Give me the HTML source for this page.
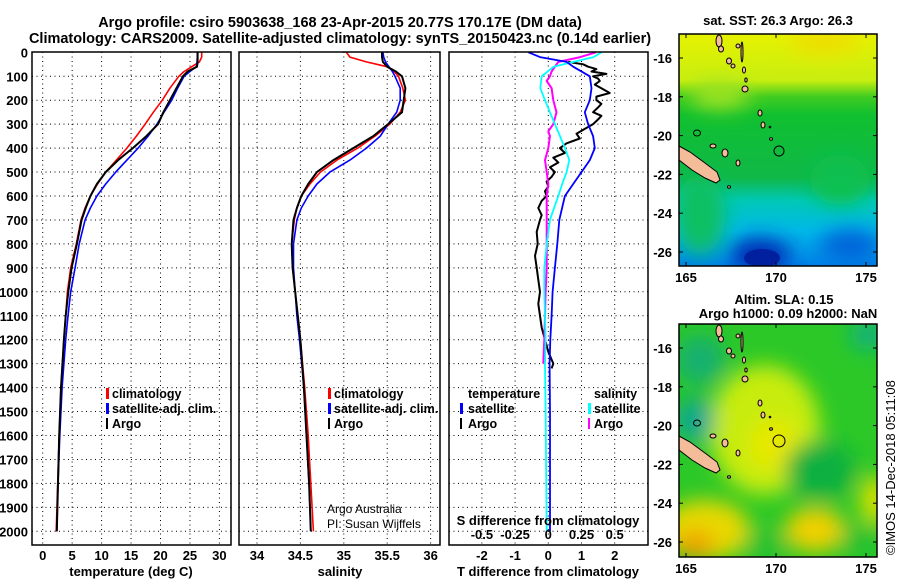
<!DOCTYPE html>
<html><head><meta charset="utf-8"><style>
html,body{margin:0;padding:0;background:#fff;}
svg{display:block;font-family:"Liberation Sans",Arial,sans-serif;}
.tk{font-size:13px;font-weight:bold;fill:#000;}
.lg{font-size:12.5px;font-weight:bold;fill:#000;}
</style></head><body>
<svg id="fig" width="900" height="580" viewBox="0 0 900 580">
<defs>
<clipPath id="c1"><rect x="32" y="52" width="199" height="493"/></clipPath>
<clipPath id="c2"><rect x="239" y="52" width="201" height="493"/></clipPath>
<clipPath id="c3"><rect x="449" y="52" width="199" height="493"/></clipPath>
<clipPath id="m1"><rect x="679" y="34" width="198" height="232"/></clipPath>
<clipPath id="m2"><rect x="679" y="324" width="198" height="233"/></clipPath>
<filter id="bl" x="-50%" y="-50%" width="200%" height="200%"><feGaussianBlur stdDeviation="10"/></filter>
<linearGradient id="sst" x1="0" y1="0" x2="0" y2="1">
<stop offset="0" stop-color="#e6f200"/><stop offset="0.2" stop-color="#c8ee10"/>
<stop offset="0.27" stop-color="#40cc20"/><stop offset="0.35" stop-color="#10c030"/>
<stop offset="0.62" stop-color="#10b848"/><stop offset="0.72" stop-color="#00c8b8"/>
<stop offset="0.85" stop-color="#00b8e8"/><stop offset="1" stop-color="#0080e8"/>
</linearGradient>
</defs>
<text x="340" y="27" text-anchor="middle" style="font-size:14.5px;font-weight:bold">Argo profile: csiro 5903638_168 23-Apr-2015 20.77S 170.17E (DM data)</text>
<text x="340" y="43" text-anchor="middle" style="font-size:14.5px;font-weight:bold">Climatology: CARS2009. Satellite-adjusted climatology: synTS_20150423.nc (0.14d earlier)</text>
<g id="grid"></g>
<g id="lines"></g>
<g id="axes"></g>

<g>
<rect x="106" y="388" width="3" height="11" fill="#f00"/><text class="lg" x="112" y="398">climatology</text>
<rect x="106" y="403" width="3" height="11" fill="#00f"/><text class="lg" x="112" y="413">satellite-adj. clim.</text>
<rect x="106" y="418" width="2" height="11" fill="#000"/><text class="lg" x="112" y="428">Argo</text>
</g>
<g>
<rect x="328" y="388" width="3" height="11" fill="#f00"/><text class="lg" x="334" y="398">climatology</text>
<rect x="328" y="403" width="3" height="11" fill="#00f"/><text class="lg" x="334" y="413">satellite-adj. clim.</text>
<rect x="328" y="418" width="2" height="11" fill="#000"/><text class="lg" x="334" y="428">Argo</text>
</g>
<g>
<text class="lg" x="468" y="398">temperature</text><text class="lg" x="594" y="398">salinity</text>
<rect x="460" y="403" width="3" height="11" fill="#00f"/><text class="lg" x="468" y="413">satellite</text>
<rect x="588" y="403" width="3" height="11" fill="#0ff"/><text class="lg" x="594" y="413">satellite</text>
<rect x="460" y="418" width="2" height="11" fill="#000"/><text class="lg" x="468" y="428">Argo</text>
<rect x="588" y="418" width="2" height="11" fill="#f0f"/><text class="lg" x="594" y="428">Argo</text>
</g>
<text x="327" y="513" style="font-size:12px">Argo Australia</text>
<text x="327" y="528" style="font-size:12px">PI: Susan Wijffels</text>
<text class="tk" x="548" y="525" text-anchor="middle">S difference from climatology</text>

<text class="tk" x="131" y="576" text-anchor="middle">temperature (deg C)</text>
<text class="tk" x="340" y="576" text-anchor="middle">salinity</text>
<text class="tk" x="548" y="576" text-anchor="middle">T difference from climatology</text>

<g>
<text class="tk" x="778" y="25" text-anchor="middle">sat. SST: 26.3 Argo: 26.3</text>
<g clip-path="url(#m1)">
<rect x="679" y="34" width="198" height="232" fill="url(#sst)"/>
<g filter="url(#bl)">
<ellipse cx="825" cy="42" rx="35" ry="10" fill="#f2d800"/>
<ellipse cx="700" cy="215" rx="25" ry="40" fill="#10c060"/>
<ellipse cx="840" cy="180" rx="30" ry="25" fill="#10c050"/>
<ellipse cx="760" cy="255" rx="30" ry="16" fill="#0028b0"/>
<ellipse cx="850" cy="245" rx="30" ry="15" fill="#0060d8"/>
<ellipse cx="720" cy="95" rx="30" ry="14" fill="#a0e420"/>
</g>
<ellipse cx="762" cy="258" rx="18" ry="9" fill="#0020a0"/>
</g>
<g id="land1"></g>
<rect x="679" y="34" width="198" height="232" fill="none" stroke="#000" stroke-width="1.5"/>
<circle cx="779" cy="151" r="5" fill="none" stroke="#000"/>
</g>
<g>
<text class="tk" x="784" y="304" text-anchor="middle">Altim. SLA: 0.15</text>
<text class="tk" x="788" y="318" text-anchor="middle">Argo h1000: 0.09 h2000: NaN</text>
<g clip-path="url(#m2)">
<rect x="679" y="324" width="198" height="233" fill="#2cc828"/>
<g filter="url(#bl)">
<ellipse cx="765" cy="430" rx="55" ry="65" fill="#c8ec10"/>
<ellipse cx="775" cy="445" rx="25" ry="25" fill="#e8e800"/>
<ellipse cx="700" cy="360" rx="25" ry="25" fill="#18b070"/>
<ellipse cx="695" cy="420" rx="20" ry="22" fill="#10a890"/>
<ellipse cx="705" cy="530" rx="45" ry="30" fill="#e8d800"/>
<ellipse cx="695" cy="545" rx="20" ry="14" fill="#f0a000"/>
<ellipse cx="815" cy="530" rx="30" ry="22" fill="#f0d000"/>
<ellipse cx="820" cy="470" rx="35" ry="30" fill="#10b040"/>
<ellipse cx="765" cy="545" rx="22" ry="14" fill="#20c030"/>
<ellipse cx="868" cy="335" rx="18" ry="15" fill="#10b080"/>
<ellipse cx="875" cy="500" rx="15" ry="25" fill="#d8e000"/>
<ellipse cx="860" cy="540" rx="20" ry="15" fill="#20c030"/>
</g>
</g>
<g id="land2"></g>
<rect x="679" y="324" width="198" height="233" fill="none" stroke="#000" stroke-width="1.5"/>
<circle cx="779" cy="441" r="6" fill="none" stroke="#000"/>
</g>
<g id="maxes"></g>
<text transform="translate(895,555) rotate(-90)" style="font-size:13px">©IMOS 14-Dec-2018 05:11:08</text>
</svg>
<script>
const depth = [0,20,40,60,80,100,150,200,250,300,350,400,450,500,550,600,650,700,800,900,1000,1100,1200,1400,1600,1800,2000];
const tClim = [27.0,27.0,26.6,25.3,24.0,23.1,21.6,20.3,18.8,17.4,15.9,14.3,12.5,10.7,9.3,8.1,7.2,6.5,5.7,4.75,4.2,3.9,3.6,3.1,2.8,2.55,2.3];
const tSat  = [26.25,26.25,26.2,26.1,25.0,24.0,22.9,21.9,20.6,19.4,17.9,16.2,14.3,12.4,10.7,9.2,8.1,7.2,6.2,5.5,4.75,4.3,3.9,3.3,2.9,2.6,2.4];
const tArgo = [26.3,26.3,26.3,26.2,24.6,23.8,22.7,21.6,20.5,19.6,17.6,15.3,12.8,10.7,9.2,8.1,7.3,6.6,5.8,4.9,4.35,3.9,3.6,3.1,2.8,2.6,2.4];
const sClim = [35.03,35.07,35.26,35.50,35.58,35.63,35.68,35.71,35.65,35.53,35.36,35.16,34.92,34.73,34.61,34.51,34.46,34.43,34.40,34.41,34.44,34.47,34.50,34.55,34.59,34.62,34.65];
const sSat  = [35.45,35.46,35.48,35.52,35.56,35.59,35.65,35.65,35.61,35.51,35.42,35.26,35.07,34.84,34.69,34.59,34.51,34.46,34.42,34.42,34.44,34.46,34.49,34.54,34.57,34.60,34.62];
const sArgo = [35.44,35.44,35.45,35.50,35.60,35.67,35.71,35.69,35.67,35.51,35.34,35.11,34.88,34.69,34.59,34.51,34.46,34.42,34.40,34.41,34.44,34.47,34.50,34.54,34.57,34.60,34.62];
const satDepth = [0,20,40,60,100,150,200,250,300,350,400,450,500,550,600,700,800,900,1000,1100,1200,1300,1500,2000];
const tDiffSat = [-0.6,-0.25,0.55,0.75,1.25,1.3,1.25,1.1,1.2,1.35,1.4,1.25,1.0,0.75,0.5,0.33,0.27,0.2,0.13,0.1,0.06,0.04,0.05,0.05];
const sDiffSat = [0.40,0.34,0.19,0.04,-0.05,-0.06,-0.025,0.012,0.05,0.088,0.125,0.158,0.138,0.105,0.075,0.012,-0.012,-0.03,-0.03,-0.025,-0.02,-0.025,-0.02,-0.012];
const argoDepth = [40,50,60,70,80,90,100,110,120,135,150,170,185,200,215,230,250,265,280,300,320,340,360,380,400,420,440,460,480,500,520,540,560,580,600,620,650,680,700,750,800,850,900,950,1000,1050,1100,1150,1200,1250,1300,1320];
const tDiffArgo = [0.6,1.05,1.2,1.45,1.3,1.75,1.35,1.5,1.55,1.4,1.6,1.85,1.45,1.45,1.6,1.5,1.35,1.6,1.5,1.35,1.1,0.85,0.95,0.55,0.35,0.5,0.15,0.3,0.05,0.2,0.1,-0.05,0.0,-0.1,-0.05,-0.2,-0.3,-0.2,-0.25,-0.35,-0.32,-0.4,-0.35,-0.3,-0.25,-0.3,-0.25,-0.2,-0.1,0.0,0.15,0.1];
const sArgoDepth = [0,20,40,60,80,100,120,150,200,250,300,330,350,400,450,500,550,600,700,800,900,1000,1100,1200,1300];
const sDiffArgo = [0.36,0.24,0.075,0.05,0.025,0.012,-0.012,0.025,0.038,0.062,0.038,0,0.012,0,-0.025,-0.012,0,-0.012,-0.012,-0.012,-0.012,-0.02,-0.025,-0.03,-0.038];
const depthTicks = [0,100,200,300,400,500,600,700,800,900,1000,1100,1200,1300,1400,1500,1600,1700,1800,1900,2000];
const tTicks = [0,5,10,15,20,25,30];
const sTicks = [34,34.5,35,35.5,36];
const sTickLabels = ["34","34.5","35","35.5","36"];
const dTicks = [-2,-1,0,1,2];
const sdTicks = [-0.5,-0.25,0,0.25,0.5];
const sdTickLabels = ["-0.5","-0.25","0","0.25","0.5"];
const latTicks = [-16,-18,-20,-22,-24,-26];
const lonTicks = [165,170,175];

const yD = d => 52.3 + 0.2395*d;
const xT = t => 42.7 + 5.89*t;
const xS = s => 257 + 86.8*(s-34);
const xDT = t => 548.3 + 33.2*t;
const xDS = s => 548.3 + 132.8*s;
const NS = 'http://www.w3.org/2000/svg';
function mk(tag, attrs, parent){const e=document.createElementNS(NS,tag);for(const k in attrs)e.setAttribute(k,attrs[k]);parent.appendChild(e);return e;}
const grid=document.getElementById('grid'), lines=document.getElementById('lines'), axes=document.getElementById('axes');
const panels=[{x0:32,x1:231},{x0:239,x1:440},{x0:449,x1:648}];
const dot={stroke:'#000','stroke-width':1,'stroke-dasharray':'1 3.5',fill:'none'};
panels.forEach(p=>{
  depthTicks.forEach(d=>{ if(d>0){ const l=mk('line',Object.assign({x1:p.x0,x2:p.x1,y1:yD(d),y2:yD(d)},dot),grid);
    
    }});
  const r=mk('rect',{x:p.x0,y:52,width:p.x1-p.x0,height:493,fill:'none',stroke:'#000','stroke-width':1.5},axes);
  
  
});
tTicks.forEach(t=>{ const l=mk('line',Object.assign({x1:xT(t),x2:xT(t),y1:52,y2:545},dot),grid);
  
  
  const tx=mk('text',{x:xT(t),y:560,'text-anchor':'middle',class:'tk'},axes); tx.textContent=t;
  
  });
sTicks.forEach((s,i)=>{ const l=mk('line',Object.assign({x1:xS(s),x2:xS(s),y1:52,y2:545},dot),grid);
  
  
  const tx=mk('text',{x:xS(s),y:560,'text-anchor':'middle',class:'tk'},axes); tx.textContent=sTickLabels[i];
  
  });
dTicks.forEach(t=>{ const l=mk('line',Object.assign({x1:xDT(t),x2:xDT(t),y1:52,y2:545},dot),grid);
  
  
  const tx=mk('text',{x:xDT(t),y:560,'text-anchor':'middle',class:'tk'},axes); tx.textContent=t;
  
  });
sdTicks.forEach((s,i)=>{ const tx=mk('text',{x:xDS(s),y:539,'text-anchor':'middle',class:'tk'},axes); tx.textContent=sdTickLabels[i];
  
  });
depthTicks.forEach(d=>{ const tx=mk('text',{x:28,y:yD(d)+5,'text-anchor':'end',class:'tk'},axes); tx.textContent=d;
  
  });

function series(xs, ds, fx, color, w, clip, name){
  const pts=xs.map((v,i)=>fx(v).toFixed(1)+','+yD(ds[i]).toFixed(1)).join(' ');
  const pl=mk('polyline',{points:pts,fill:'none',stroke:color,'stroke-width':w,'clip-path':'url(#'+clip+')','stroke-linejoin':'round'},lines);
  
  
}
series(tClim,depth,xT,'#f00',1.6,'c1','temperature-climatology-line');
series(tSat,depth,xT,'#00f',1.6,'c1','temperature-satellite-line');
series(tArgo,depth,xT,'#000',2,'c1','temperature-argo-line');
series(sClim,depth,xS,'#f00',1.6,'c2','salinity-climatology-line');
series(sSat,depth,xS,'#00f',1.6,'c2','salinity-satellite-line');
series(sArgo,depth,xS,'#000',2,'c2','salinity-argo-line');
series(tDiffArgo,argoDepth,xDT,'#000',2,'c3','t-diff-argo-line');
series(sDiffArgo,sArgoDepth,xDS,'#f0f',2,'c3','s-diff-argo-line');
series(sDiffSat,satDepth,xDS,'#0ff',1.8,'c3','s-diff-satellite-line');
series(tDiffSat,satDepth,xDT,'#00f',1.8,'c3','t-diff-satellite-line');

const lonX = lon => 686 + 18*(lon-165);
const maxes=document.getElementById('maxes');
[[34,58,266],[324,348,557]].forEach(([top,y16,bot],mi)=>{
  const latY = lat => y16 + 19.4*(-16-lat);
  latTicks.forEach(lat=>{ const y=latY(lat);
    const tx=mk('text',{x:672,y:y+5,'text-anchor':'end',class:'tk'},maxes); tx.textContent=lat;
    
    
    mk('line',{x1:679,x2:683,y1:y,y2:y,stroke:'#000'},maxes); mk('line',{x1:873,x2:877,y1:y,y2:y,stroke:'#000'},maxes);});
  lonTicks.forEach(lon=>{ const x=lonX(lon);
    const tx=mk('text',{x:x,y:bot+16,'text-anchor':'middle',class:'tk'},maxes); tx.textContent=lon;
    
    
    mk('line',{x1:x,x2:x,y1:bot-4,y2:bot,stroke:'#000'},maxes); mk('line',{x1:x,x2:x,y1:top,y2:top+4,stroke:'#000'},maxes);});
  const g=document.getElementById(mi?'land2':'land1'); const off=mi?290:0;
  const pl=mk('polygon',{points:[[679,146],[690,152],[705,163],[717,172],[720,180],[716,183],[705,178],[692,170],[679,160]].map(p=>p[0]+','+(p[1]+off)).join(' '),fill:'#f4bc98',stroke:'#000','stroke-width':1},g);
  
  
  [[719,41,3,6],[721,49,2.5,3],[738,46,2,2],[729,61,2.5,3],[733,66,2,2],[742,52,1,10],[744,70,1.5,3],[746,80,1.2,2],[745,89,3,3],[760,113,2,3],[763,125,2,3],[770,127,0.8,0.8],[771,139,1.5,1.2],[697,133,3.5,3],[713,146,3,2],[725,153,3,4],[738,163,2,3],[729,187,1.5,1.2]].forEach(e=>{
    const el=mk('ellipse',{cx:e[0],cy:e[1]+off,rx:e[2],ry:e[3],fill:(e[0]===697)?'none':'#f4bc98',stroke:'#000','stroke-width':1},g);
    
    });
});
</script>
</body></html>
